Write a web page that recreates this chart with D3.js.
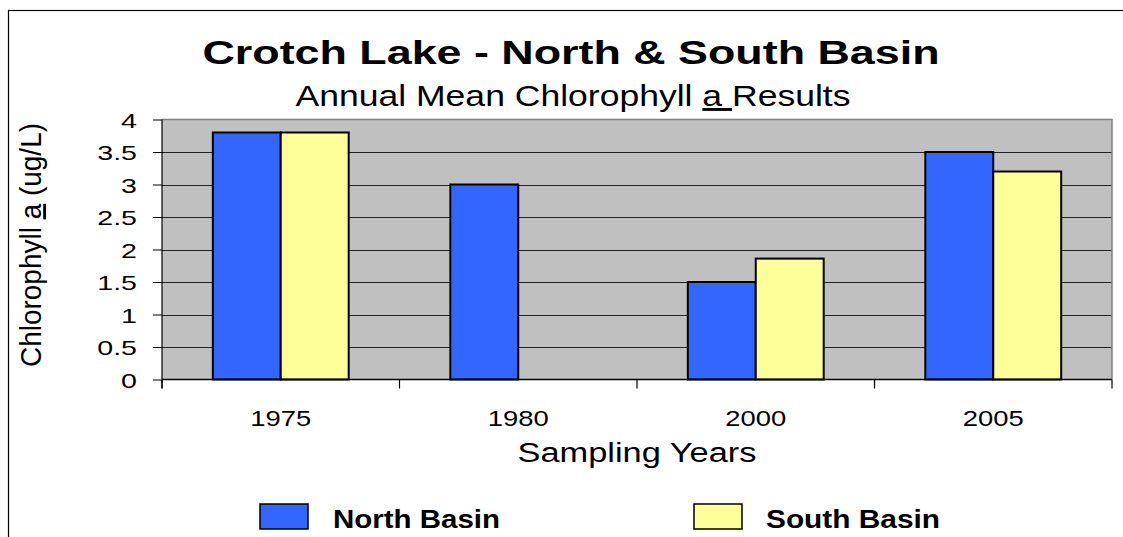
<!DOCTYPE html>
<html><head><meta charset="utf-8">
<script src="https://cdn.jsdelivr.net/npm/d3@7"></script>
<style>body{margin:0;background:#fff}svg{display:block;font-family:"Liberation Sans",Arial,sans-serif}</style>
</head><body><svg id="c" width="1123" height="537"></svg>
<script>
const categories = ["1975","1980","2000","2005"];
const seriesNames = ["North Basin","South Basin"];
const northBasin = [3.8, 3.0, 1.5, 3.5];
const southBasin = [3.8, null, 1.86, 3.2];
const yTicks = [0,0.5,1,1.5,2,2.5,3,3.5,4];
const colors = ["#3366FF","#FFFF99"];

const svg = d3.select("#c");
const L=162, R=1112, T=119.5, B=379.5;

function fit(sel, w){ sel.attr("textLength", w).attr("lengthAdjust","spacingAndGlyphs"); return sel; }
function stretch(sel, f){ sel.each(function(){ const n=this; const w=n.getComputedTextLength(); d3.select(n).attr("textLength", w*f).attr("lengthAdjust","spacingAndGlyphs"); }); return sel; }

svg.append("rect").attr("x",8.5).attr("y",10.5).attr("width",1200).attr("height",600)
  .attr("fill","none").attr("stroke","#000").attr("stroke-width",1.2);

const x = d3.scaleBand().domain(categories).range([L,R]).paddingInner(0).paddingOuter(0);
const x1 = d3.scaleBand().domain(seriesNames).range([0,x.bandwidth()]).paddingInner(0).paddingOuter(0.748);
const y = d3.scaleLinear().domain([0,4]).range([B,T]);

svg.append("rect").attr("x",L).attr("y",T).attr("width",R-L).attr("height",B-T).attr("fill","#C0C0C0");
svg.append("g").selectAll("line").data(yTicks.filter(d=>d>0&&d<4)).join("line")
  .attr("x1",L).attr("x2",R).attr("y1",d=>Math.round(y(d))+0.5).attr("y2",d=>Math.round(y(d))+0.5).attr("stroke","#222").attr("stroke-width",1);
svg.append("path").attr("d",`M${L},${T}H${R}V${B}`).attr("fill","none").attr("stroke","#808080").attr("stroke-width",1.5);

const data = categories.map((c,i)=>({c, vals:[northBasin[i],southBasin[i]]}));
const g = svg.append("g").selectAll("g").data(data).join("g").attr("transform",d=>`translate(${x(d.c)},0)`);
g.selectAll("rect").data(d=>d.vals.map((v,j)=>({v,s:seriesNames[j],j})).filter(e=>e.v!=null)).join("rect")
  .attr("x",e=>x1(e.s)).attr("width",x1.bandwidth()).attr("y",e=>y(e.v)).attr("height",e=>B-y(e.v))
  .attr("fill",e=>colors[e.j]).attr("stroke","#000").attr("stroke-width",2);

// y axis
const ya = svg.append("g").attr("transform",`translate(${L},0)`)
  .call(d3.axisLeft(y).tickValues(yTicks).tickSize(9).tickPadding(16).tickFormat(d3.format("")));
ya.select(".domain").attr("d",`M0,${T}V${B+9}`).attr("stroke","#000").attr("stroke-width",1.2);
ya.selectAll(".tick line").attr("stroke","#000");
ya.selectAll("text").attr("font-size",21).attr("fill","#000").attr("font-family","Liberation Sans, Arial").attr("dy","0.36em");
stretch(ya.selectAll("text"), 1.36);

// x axis
svg.append("line").attr("x1",L).attr("x2",R).attr("y1",B).attr("y2",B).attr("stroke","#000").attr("stroke-width",1.5);
svg.append("g").selectAll("line").data(categories.map(c=>x(c)).concat([R])).join("line")
  .attr("x1",d=>d).attr("x2",d=>d).attr("y1",B).attr("y2",B+9).attr("stroke","#000").attr("stroke-width",1.2);
const xl = svg.append("g").selectAll("text").data(categories).join("text")
  .attr("x",d=>x(d)+x.bandwidth()/2).attr("y",426).attr("text-anchor","middle").attr("font-size",22).text(d=>d);
stretch(xl, 1.245);

// titles
fit(svg.append("text").attr("x",571).attr("y",64).attr("text-anchor","middle").attr("font-size",34)
  .attr("font-weight","bold").text("Crotch Lake - North & South Basin"), 737);
const st = svg.append("text").attr("x",573).attr("y",106).attr("text-anchor","middle").attr("font-size",29);
st.append("tspan").text("Annual Mean Chlorophyll ");
st.append("tspan").attr("text-decoration","underline").text("a ");
st.append("tspan").text("Results");
fit(st, 555);

const yl = svg.append("text").attr("transform","translate(41,245) scale(1.2,1) rotate(-90)").attr("text-anchor","middle").attr("font-size",24);
yl.append("tspan").text("Chlorophyll ");
yl.append("tspan").attr("text-decoration","underline").text("a");
yl.append("tspan").text(" (ug/L)");
fit(yl, 244);

fit(svg.append("text").attr("x",637).attr("y",462).attr("text-anchor","middle").attr("font-size",27).text("Sampling Years"), 239);

// legend
const lx = [260, 694];
const lw = [167, 174];
const lg = svg.append("g").selectAll("g").data(seriesNames).join("g").attr("transform",(d,i)=>`translate(${lx[i]},504)`);
lg.append("rect").attr("width",48).attr("height",25).attr("fill",(d,i)=>colors[i]).attr("stroke","#000").attr("stroke-width",1.5);
lg.append("text").attr("x",(d,i)=>i===0?73:72).attr("y",23.5).attr("font-size",26).attr("font-weight","bold")
  .attr("textLength",(d,i)=>lw[i]).attr("lengthAdjust","spacingAndGlyphs").text(d=>d);
</script></body></html>
